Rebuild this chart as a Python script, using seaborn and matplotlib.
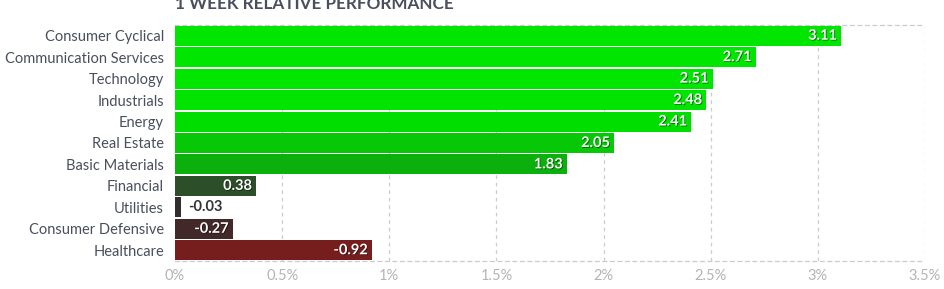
import matplotlib
matplotlib.use("Agg")
import matplotlib.pyplot as plt
import matplotlib.patheffects as pe
import seaborn as sns
import pandas as pd
import numpy as np

sectors = ["Consumer Cyclical", "Communication Services", "Technology", "Industrials",
           "Energy", "Real Estate", "Basic Materials", "Financial", "Utilities",
           "Consumer Defensive", "Healthcare"]
values = [3.11, 2.71, 2.51, 2.48, 2.41, 2.05, 1.83, 0.38, -0.03, -0.27, -0.92]
colors = ["#00e600", "#00e600", "#00e600", "#00e400", "#00de00", "#06c806", "#0cb00c",
          "#2c4f2a", "#322e2e", "#422828", "#761e1e"]
ticks = [0, 0.5, 1, 1.5, 2, 2.5, 3, 3.5]
tick_labels = ["0%", "0.5%", "1%", "1.5%", "2%", "2.5%", "3%", "3.5%"]

sns.set_theme(style="white")
plt.rcParams['font.family'] = ['Lato', 'DejaVu Sans']

df = pd.DataFrame({"sector": sectors, "value": values, "absval": np.abs(values)})

fig = plt.figure(figsize=(9.44, 2.89), dpi=100)
W, H = 944, 289
left, right, top, bottom = 175, 925, 25, 261
ax = fig.add_axes([left / W, 1 - bottom / H, (right - left) / W, (bottom - top) / H])

sns.barplot(data=df, y="sector", x="absval", hue="sector", palette=colors,
            order=sectors, hue_order=sectors, legend=False, width=0.93,
            saturation=1, ax=ax, zorder=3, linewidth=0)

ax.set_xlim(0, 3.5)
ax.set_ylim(len(sectors) - 0.5, -0.5)
ax.set_xticks(ticks)
ax.set_xticklabels(tick_labels, color="#b4b4b4", fontsize=10.5)
ax.tick_params(axis="x", length=0, pad=6)
ax.tick_params(axis="y", length=0, pad=8)
ax.set_yticks(range(len(sectors)))
ax.set_yticklabels(sectors, color="#4a4f5e", fontsize=10.5)
ax.set_xlabel("")
ax.set_ylabel("")

for t in ticks[1:]:
    ax.axvline(t, color="#cccccc", linestyle=(0, (3, 3)), linewidth=0.9, zorder=1)
for s in ["top", "bottom"]:
    ax.spines[s].set_visible(True)
    ax.spines[s].set_color("#cccccc")
    ax.spines[s].set_linestyle((0, (3, 3)))
    ax.spines[s].set_linewidth(0.9)
ax.spines["right"].set_visible(False)
ax.spines["left"].set_visible(False)

for i, (v, a) in enumerate(zip(values, np.abs(values))):
    lab = f"{v:.2f}"
    if a >= 0.2:
        ax.text(a - 0.02, i, lab, ha="right", va="center", color="white",
                fontsize=10.5, fontweight="bold", zorder=5,
                path_effects=[pe.withSimplePatchShadow(offset=(0.6, -0.6), shadow_rgbFace="#000000", alpha=0.5)])
    else:
        ax.text(a + 0.03, i, lab, ha="left", va="center", color="#333333",
                fontsize=10.5, fontweight="bold", zorder=5)

fig.text(left / W, 1 - 9 / H, "1 WEEK RELATIVE PERFORMANCE", ha="left", va="baseline",
         color="#4a4f5e", fontsize=12.3, fontweight="bold")

fig.savefig("out.png", dpi=100)
